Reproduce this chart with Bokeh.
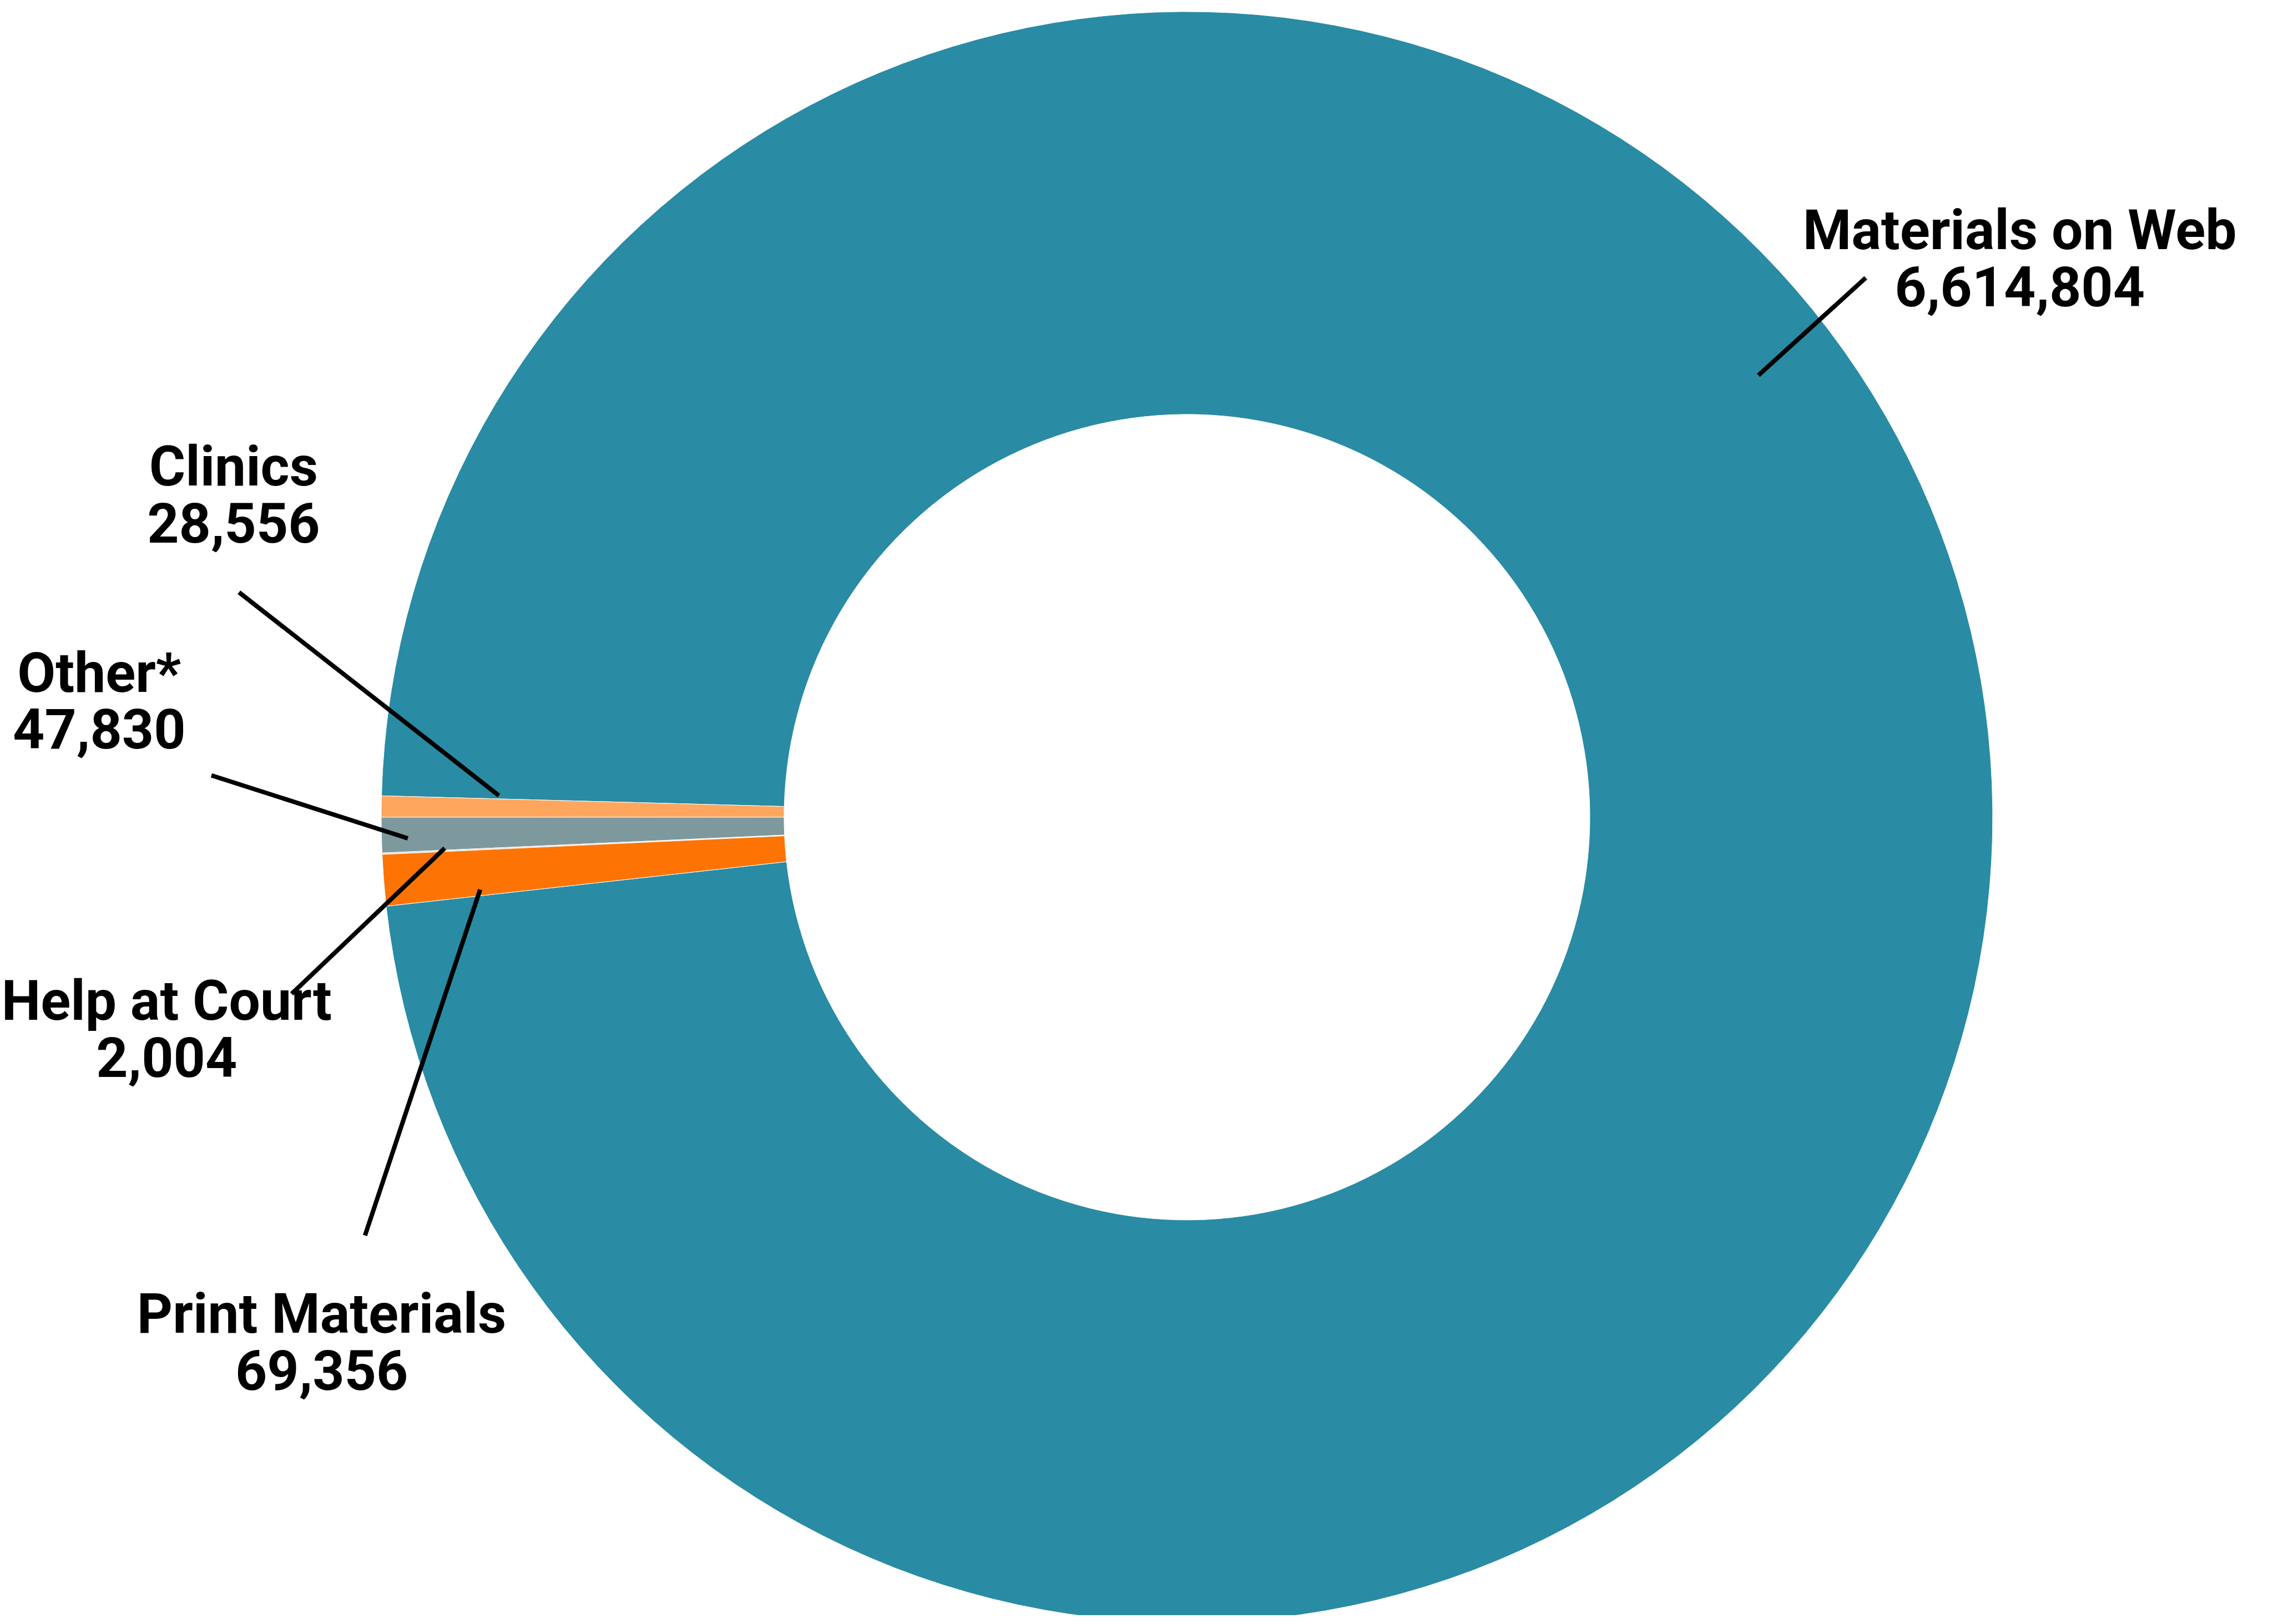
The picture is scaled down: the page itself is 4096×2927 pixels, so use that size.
import math
from bokeh.plotting import figure
from bokeh.models import Range1d, ColumnDataSource
from bokeh.embed import file_html
from bokeh.resources import INLINE
from bokeh.core.properties import value

# ---------------- data ----------------
categories = ["Materials on Web", "Clinics", "Other*", "Help at Court", "Print Materials"]
counts = [6614804, 28556, 47830, 2004, 69356]
colors = ["#298BA4", "#FFA65E", "#7E999E", "#D8DBDC", "#FD7304"]

# ---------------- layout (reference pixel space 4618x3300) ----------------
WIN_W, WIN_H = 4096, 2927
S = WIN_W / 4618.0
CENTER = (2420, 1669)
OUTER_R = 1637
INNER_R = 818.5
FONT_SIZE = "75pt"  # = 100 px
BASELINE_SHIFT = 30  # renderer's alphabetic baseline sits lower than the reference
# label centre x, first-line baseline, second-line baseline
label_pos = [(4112, 506, 620), (483, 986, 1100), (210, 1406, 1519),
             (347, 2072, 2186), (662, 2708, 2822)]
# leader line: label end -> slice end
leader_pos = [((3799, 573), (3581, 771)), ((494, 1212), (1022, 1625)),
              ((438, 1584), (837, 1712)), ((601, 2028), (912, 1732)),
              ((750, 2519), (984, 1816))]


def wx(x):
    return x * S


def wy(y):
    return WIN_H - y * S


W, H = WIN_W - 16, WIN_H - 16
p = figure(width=W, height=H, output_backend="svg", toolbar_location=None,
           x_range=Range1d(8, 8 + W), y_range=Range1d(8, 8 + H),
           min_border=0, x_axis_location=None, y_axis_location=None)
p.grid.visible = False
p.outline_line_color = None
p.background_fill_color = "white"
p.border_fill_color = "white"

total = float(sum(counts))
# rotate so that the boundary between the 2nd and 3rd slice lies at 9 o'clock
offset = math.pi - 2 * math.pi * (counts[0] + counts[1]) / total
starts, ends = [], []
acc = 0.0
for c in counts:
    starts.append(offset + 2 * math.pi * acc / total)
    acc += c
    ends.append(offset + 2 * math.pi * acc / total)

src = ColumnDataSource(dict(start=starts, end=ends, color=colors))
p.annular_wedge(x=wx(CENTER[0]), y=wy(CENTER[1]), inner_radius=INNER_R * S,
                outer_radius=OUTER_R * S, start_angle="start", end_angle="end",
                direction="anticlock", fill_color="color", line_color="white",
                line_width=1, source=src)

# leader lines
p.multi_line(xs=[[wx(a[0]), wx(b[0])] for a, b in leader_pos],
             ys=[[wy(a[1]), wy(b[1])] for a, b in leader_pos],
             line_color="black", line_width=8)

# labels
tx, ty, tt = [], [], []
for name, c, (lx, b1, b2) in zip(categories, counts, label_pos):
    for txt, by in ((name, b1), (f"{c:,}", b2)):
        tx.append(wx(lx))
        ty.append(wy(by - BASELINE_SHIFT))
        tt.append(txt)
lsrc = ColumnDataSource(dict(x=tx, y=ty, t=tt))
p.text(x="x", y="y", text="t", source=lsrc,
       text_font=value("Roboto"), text_font_style="bold", text_font_size=FONT_SIZE,
       text_align="center", text_baseline="alphabetic", text_color="black")

open("out.html", "w").write(file_html(p, INLINE))
